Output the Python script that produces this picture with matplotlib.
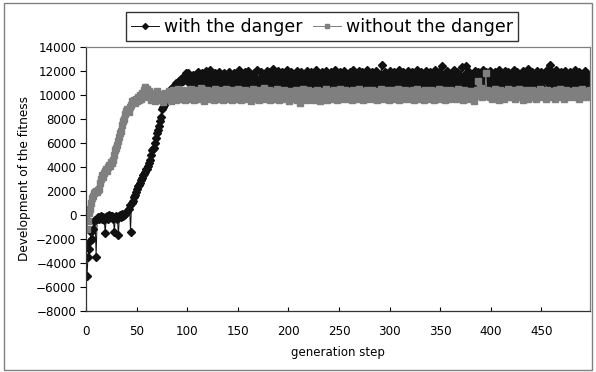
import matplotlib.pyplot as plt
import numpy as np
from matplotlib.patches import Rectangle

# fitness per generation step, in hundreds
with_danger = [
    -25, -51, -35, -28, -22, -14, -20, -12, -5, -4, -35, -3, -2, -3, -2, -1, -3, -2, -4, -15,
    -2, -1, -3, 0, -2, -1, -1, -3, -14, -2, -1, -3, -17, -1, 0, -2, 1, -1, 0, 1,
    2, 3, 5, 8, -14, 10, 12, 15, 17, 19, 22, 24, 25, 27, 29, 31, 33, 34, 36, 38,
    38, 41, 43, 46, 50, 54, 55, 56, 60, 64, 68, 71, 74, 78, 82, 88, 90, 92, 95, 97,
    100, 102, 101, 104, 105, 103, 107, 106, 108, 110, 109, 111, 112, 110, 113, 114, 112, 115, 116, 118,
    114, 118, 110, 116, 112, 108, 117, 113, 107, 115, 111, 119, 116, 109, 114, 118, 110, 115, 112, 120,
    113, 109, 117, 121, 110, 115, 107, 118, 112, 116, 108, 119, 114, 106, 115, 111, 118, 113, 109, 117,
    112, 119, 108, 115, 105, 113, 118, 110, 116, 107, 114, 121, 111, 109, 117, 113, 106, 119, 110, 115,
    120, 112, 107, 116, 113, 109, 118, 115, 110, 121, 112, 106, 114, 119, 108, 113, 117, 105, 112, 120,
    110, 115, 119, 107, 113, 122, 111, 108, 117, 114, 120, 109, 106, 115, 119, 112, 108, 117, 113, 121,
    108, 115, 111, 119, 106, 117, 113, 110, 120, 115, 107, 112, 119, 114, 105, 117, 110, 116, 120, 111,
    106, 114, 119, 109, 117, 108, 115, 121, 111, 106, 117, 113, 110, 119, 115, 107, 112, 120, 114, 106,
    117, 112, 119, 108, 115, 110, 121, 113, 106, 117, 111, 119, 108, 115, 113, 120, 110, 106, 117, 112,
    115, 119, 108, 113, 121, 110, 117, 106, 115, 112, 120, 108, 114, 119, 110, 117, 106, 115, 121, 111,
    108, 117, 113, 119, 110, 115, 106, 120, 112, 117, 108, 114, 125, 110, 115, 119, 106, 113, 117, 110,
    120, 112, 108, 115, 119, 106, 114, 117, 110, 121, 112, 108, 115, 119, 113, 106, 117, 112, 120, 110,
    115, 108, 119, 113, 106, 117, 112, 121, 110, 115, 108, 119, 113, 106, 117, 111, 120, 110, 115, 108,
    119, 113, 106, 117, 112, 121, 110, 115, 108, 119, 113, 106, 124, 111, 117, 110, 115, 120, 108, 113,
    117, 106, 115, 112, 121, 110, 114, 119, 108, 115, 112, 123, 110, 117, 106, 124, 113, 108, 119, 111,
    115, 106, 117, 113, 120, 110, 108, 119, 112, 115, 106, 117, 121, 110, 113, 119, 108, 115, 111, 120,
    110, 117, 106, 113, 119, 111, 115, 108, 121, 113, 110, 117, 106, 115, 120, 112, 108, 119, 113, 110,
    117, 106, 115, 121, 111, 108, 119, 113, 110, 117, 106, 115, 120, 112, 108, 117, 113, 122, 110, 115,
    108, 119, 112, 106, 117, 113, 120, 110, 115, 108, 119, 112, 106, 117, 113, 121, 110, 115, 125, 113,
    119, 108, 115, 112, 121, 110, 117, 106, 113, 119, 111, 108, 117, 120, 110, 115, 106, 113, 119, 112,
    115, 108, 117, 121, 110, 113, 106, 119, 112, 115, 108, 117, 113, 120, 110, 115, 106, 113, 117, 112,
]

without_danger = [
    -3, -12, -5, 2, 5, 10, 14, 16, 18, 19, 20, 19, 21, 22, 27, 30, 33, 32, 35, 37,
    38, 37, 40, 42, 41, 44, 43, 46, 50, 54, 56, 58, 62, 65, 68, 70, 75, 78, 80, 84,
    87, 88, 86, 90, 92, 95, 94, 96, 93, 97, 95, 98, 96, 100, 97, 102, 99, 104, 107, 101,
    105, 98, 103, 100, 96, 102, 97, 101, 95, 99, 103, 97, 100, 96, 98, 101, 94, 99, 102, 97,
    100, 97, 103, 99, 95, 101, 104, 98, 102, 96, 100, 105, 99, 97, 103, 101, 98, 104, 96, 102,
    99, 103, 97, 101, 105, 98, 100, 96, 102, 104, 99, 97, 103, 100, 106, 98, 101, 95, 102, 99,
    104, 97, 100, 103, 98, 101, 96, 105, 99, 102, 97, 100, 104, 98, 103, 96, 101, 99, 105, 97,
    102, 100, 98, 104, 96, 101, 103, 99, 97, 102, 105, 98, 100, 96, 103, 101, 99, 104, 97, 102,
    100, 98, 103, 95, 101, 105, 99, 97, 102, 100, 104, 96, 101, 98, 103, 99, 106, 97, 100, 102,
    98, 104, 96, 101, 99, 103, 97, 102, 100, 105, 98, 96, 101, 103, 99, 97, 104, 100, 102, 98,
    101, 95, 103, 99, 97, 102, 100, 104, 96, 101, 98, 93, 103, 99, 105, 97, 100, 102, 96, 104,
    99, 101, 97, 103, 100, 96, 102, 98, 104, 99, 101, 95, 103, 97, 100, 102, 98, 105, 96, 101,
    103, 99, 97, 102, 100, 104, 98, 101, 96, 103, 99, 105, 97, 102, 100, 98, 104, 101, 97, 103,
    100, 98, 102, 96, 104, 101, 99, 103, 97, 100, 105, 98, 102, 99, 96, 103, 101, 97, 104, 100,
    98, 102, 100, 104, 97, 101, 99, 103, 96, 102, 100, 105, 98, 101, 97, 103, 99, 104, 100, 96,
    102, 99, 104, 97, 101, 103, 98, 100, 105, 96, 102, 99, 103, 97, 101, 104, 98, 100, 102, 97,
    103, 100, 98, 104, 96, 101, 99, 105, 97, 102, 100, 103, 98, 101, 96, 104, 99, 102, 100, 97,
    101, 104, 98, 102, 96, 100, 103, 99, 97, 105, 101, 98, 102, 100, 104, 96, 99, 103, 101, 97,
    104, 100, 98, 102, 99, 103, 97, 101, 105, 98, 100, 102, 96, 104, 99, 101, 103, 97, 100, 102,
    98, 103, 100, 95, 101, 99, 104, 112, 102, 100, 106, 98, 101, 103, 99, 118, 104, 100, 102, 98,
    101, 97, 103, 99, 105, 100, 98, 102, 96, 104, 101, 99, 103, 97, 100, 102, 98, 105, 101, 99,
    103, 98, 100, 104, 97, 102, 99, 101, 105, 98, 100, 103, 96, 101, 99, 104, 100, 97, 102, 100,
    98, 104, 101, 99, 103, 97, 100, 102, 98, 105, 101, 99, 103, 100, 97, 104, 102, 98, 101, 100,
    103, 99, 101, 97, 104, 100, 102, 98, 105, 101, 99, 103, 97, 100, 104, 102, 98, 101, 99, 103,
    100, 102, 98, 104, 101, 99, 103, 97, 102, 100, 105, 98, 101, 103, 99, 100, 102, 98, 104, 101,
]

y_ticks = list(range(-8000, 14001, 2000))
x_ticks = list(range(0, 451, 50))

fig = plt.figure(figsize=(5.96, 3.72), dpi=100)
ax = fig.add_axes([0.1443, 0.164, 0.8457, 0.7097])

w = np.array(with_danger) * 100
wo = np.array(without_danger) * 100
ax.plot(np.arange(len(w)), w, color='#111111', lw=0.7, marker='D', ms=4.3,
        label='with the danger')
ax.plot(np.arange(len(wo)), wo, color='#7f7f7f', lw=0.7, marker='s', ms=4.6,
        label='without the danger')

ax.set_xlim(0, 498)
ax.set_ylim(-8000, 14000)
ax.set_yticks(y_ticks)
ax.set_xticks(x_ticks)
ax.tick_params(axis='y', direction='out', length=4, labelsize=8.6, pad=3)
ax.tick_params(axis='x', direction='in', length=3, labelsize=8.6, pad=10)
for s in ax.spines.values():
    s.set_color('#808080')
    s.set_linewidth(0.9)
ax.spines['left'].set_color('#333333')
ax.spines['bottom'].set_color('#333333')

ax.set_ylabel('Development of the fitness', fontsize=8.7, labelpad=4)
ax.set_xlabel('generation step', fontsize=8.5, labelpad=6)

fig.legend(loc='upper center', bbox_to_anchor=(0.54, 0.99), ncol=2,
           fontsize=12.5, frameon=True, fancybox=False, edgecolor='black',
           handlelength=1.6, handletextpad=0.3, columnspacing=0.6,
           borderpad=0.3, markerscale=0.7)

fig.patches.append(Rectangle((0.006, 0.006), 0.988, 0.986, transform=fig.transFigure,
                             fill=False, ec='#808080', lw=1))

plt.savefig('out.png', dpi=100)
